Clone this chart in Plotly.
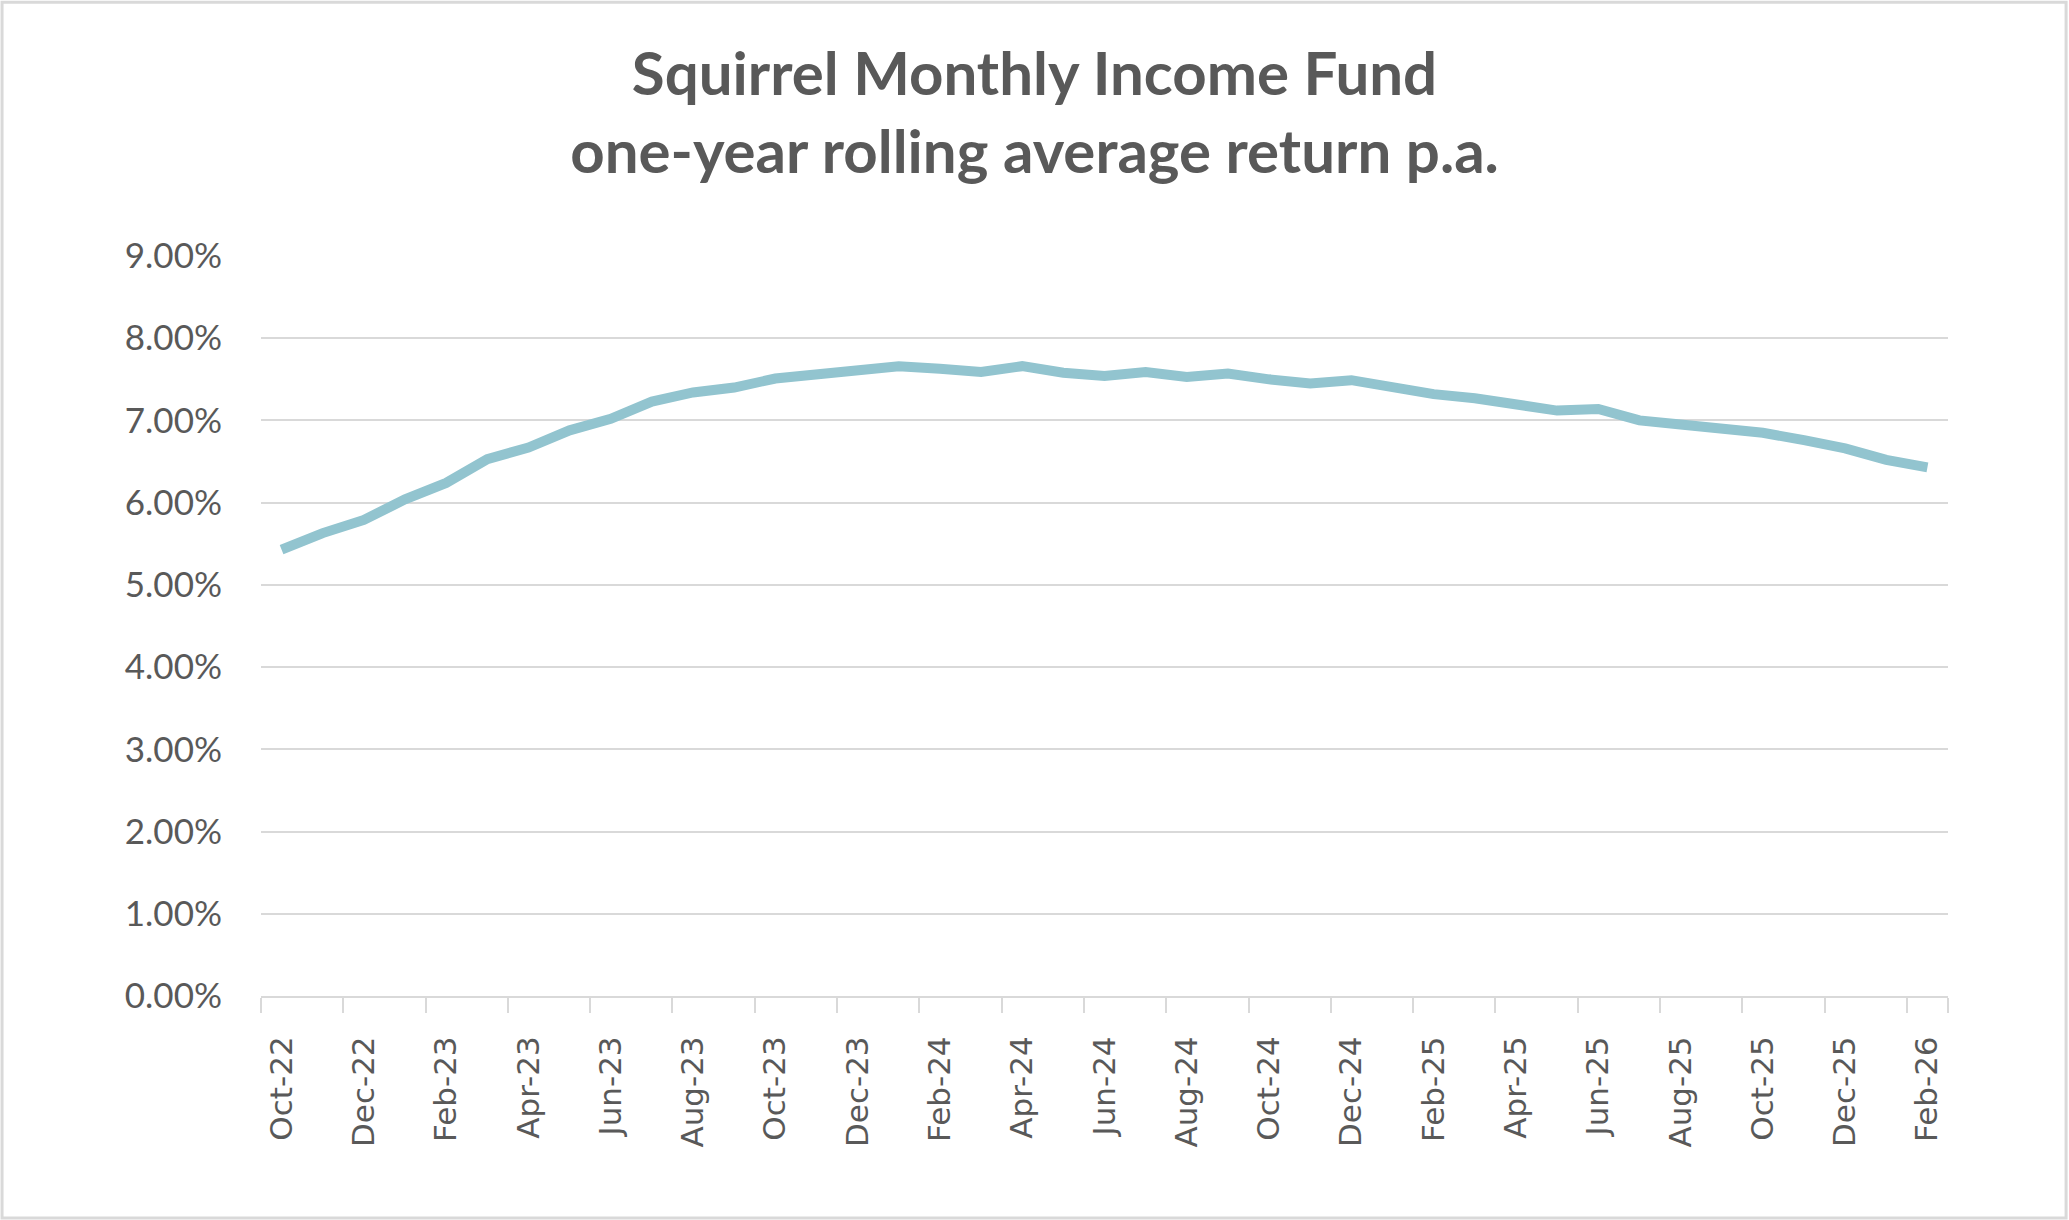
import plotly.graph_objects as go

months = ["Oct-22", "Nov-22", "Dec-22", "Jan-23", "Feb-23", "Mar-23", "Apr-23", "May-23",
          "Jun-23", "Jul-23", "Aug-23", "Sep-23", "Oct-23", "Nov-23", "Dec-23", "Jan-24",
          "Feb-24", "Mar-24", "Apr-24", "May-24", "Jun-24", "Jul-24", "Aug-24", "Sep-24",
          "Oct-24", "Nov-24", "Dec-24", "Jan-25", "Feb-25", "Mar-25", "Apr-25", "May-25",
          "Jun-25", "Jul-25", "Aug-25", "Sep-25", "Oct-25", "Nov-25", "Dec-25", "Jan-26",
          "Feb-26"]

returns_pct = [5.43, 5.63, 5.79, 6.04, 6.24, 6.53, 6.67, 6.88,
               7.02, 7.23, 7.34, 7.40, 7.51, 7.56, 7.59, 7.66,
               7.63, 7.59, 7.66, 7.58, 7.54, 7.59, 7.53, 7.57,
               7.50, 7.45, 7.49, 7.39, 7.32, 7.27, 7.19, 7.12,
               7.14, 7.00, 6.95, 6.90, 6.85, 6.76, 6.66, 6.52,
               6.43]

title_lines = ["Squirrel Monthly Income Fund", "one-year rolling average return p.a."]

returns = [v / 100 for v in returns_pct]

fig = go.Figure()
fig.add_trace(go.Scatter(
    x=months, y=returns, mode="lines",
    line=dict(color="#92C4CF", width=10),
    hoverinfo="skip", showlegend=False,
))

fig.update_layout(
    width=2069, height=1220,
    margin=dict(l=261, r=121, t=256, b=224),
    paper_bgcolor="white", plot_bgcolor="white",
    title=dict(text="<br>".join(title_lines), x=0.5, xanchor="center",
               y=0.922, yanchor="top",
               font=dict(family="Lato", size=60, color="#595959", weight="bold")),
    xaxis=dict(type="category", range=[-0.5, len(months) - 0.5],
               tickmode="array", tickvals=months[::2], ticktext=months[::2],
               tickson="boundaries", ticks="outside", ticklen=15, tickwidth=2,
               tickcolor="#D9D9D9", showline=True, linecolor="#D9D9D9", linewidth=2,
               showgrid=False, tickangle=-90, ticklabelstandoff=26,
               tickfont=dict(family="DejaVu Sans", size=31, color="#595959")),
    yaxis=dict(range=[0, 0.09], dtick=0.01, tickformat=".2%",
               showgrid=True, gridcolor="#D9D9D9", gridwidth=2,
               zeroline=False, showline=False, ticklabelstandoff=38,
               tickfont=dict(family="Lato", size=35, color="#595959")),
    shapes=[dict(type="rect", xref="paper", yref="paper",
                 x0=-0.1535, x1=1.070, y0=-0.300, y1=1.343,
                 line=dict(color="#D9D9D9", width=3), layer="below")],
)

fig.write_html("out.html", config={"displayModeBar": False},
               post_script="document.body.style.margin='0px';document.body.style.overflow='hidden';")
